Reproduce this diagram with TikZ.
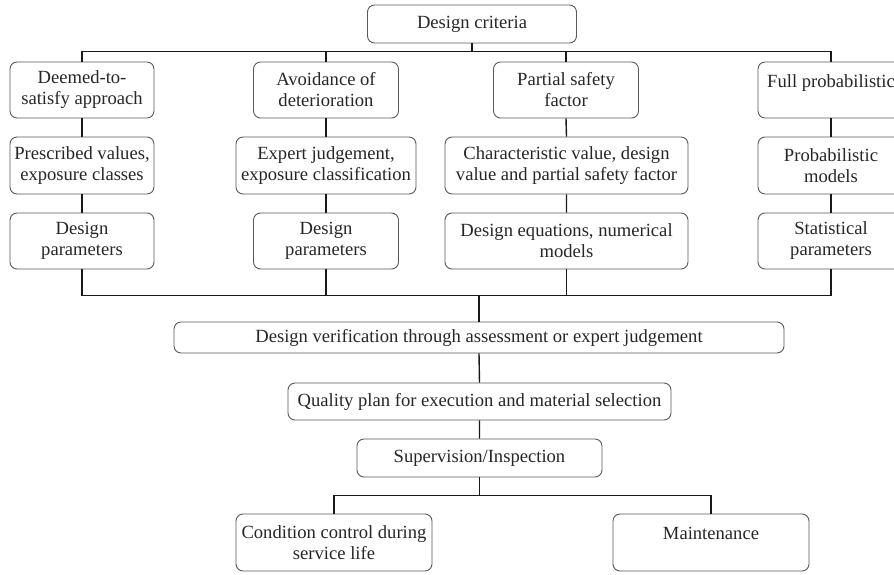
\documentclass[tikz,border=0pt]{standalone}
\usepackage{fontspec}
\setmainfont{Liberation Serif}

\begin{document}
\begin{tikzpicture}[x=1pt,y=-1pt,
    box/.style={draw=black!65,line width=0.9pt,rounded corners=7pt,align=center,inner sep=1pt,text=black!85,font=\fontsize{18.6}{21}\selectfont},
    lifted/.style={text depth=18pt},
    link/.style={draw=black!90,line width=1.4pt}]
        \useasboundingbox(0,0)rectangle(894,575);

        \node[box,minimum width=209,minimum height=38](crit)at(472,24){Design criteria};

        \node[box,minimum width=144,minimum height=56](a1)at(82,90){Deemed-to-\\satisfy approach};
        \node[box,minimum width=145,minimum height=56](b1)at(326,90){Avoidance of\\deterioration};
        \node[box,minimum width=145,minimum height=56](c1)at(566,90){Partial safety\\factor};
        \node[box,lifted,minimum width=146,minimum height=56](d1)at(831,90){Full probabilistic};

        \node[box,minimum width=144,minimum height=57](a2)at(82,165.5){Prescribed values,\\exposure classes};
        \node[box,minimum width=180,minimum height=57](b2)at(326,165.5){Expert judgement,\\exposure classification};
        \node[box,minimum width=243,minimum height=57](c2)at(566.5,165.5){Characteristic value, design\\value and partial safety factor};
        \node[box,minimum width=146,minimum height=57](d2)at(831,165.5){Probabilistic\\models};

        \node[box,minimum width=144,minimum height=56](a3)at(82,241){Design\\parameters};
        \node[box,minimum width=145,minimum height=56](b3)at(326,241){Design\\parameters};
        \node[box,minimum width=243,minimum height=56](c3)at(566.5,241){Design equations, numerical\\models};
        \node[box,minimum width=146,minimum height=56](d3)at(831,241){Statistical\\parameters};

        \node[box,minimum width=610,minimum height=31](ver)at(479,337.5){Design verification through assessment or expert judgement};
        \node[box,minimum width=383,minimum height=37](qual)at(479.5,401.5){Quality plan for execution and material selection};
        \node[box,minimum width=245,minimum height=38](sup)at(479.5,458){Supervision/Inspection};

        \node[box,minimum width=196,minimum height=57](cond)at(334,542.5){Condition control during\\service life};
        \node[box,lifted,minimum width=196,minimum height=57](maint)at(711,542.5){Maintenance};

        \draw[link](crit.south)--++(0,9);
        \draw[link](a1.north)--++(0,-10)-|(d1.north);
        \draw[link](b1.north)--++(0,-10)(c1.north)--++(0,-10);
        \foreach \c in {a,b,c,d}
            \draw[link](\c1.south)--(\c2.north)(\c2.south)--(\c3.north);
        \draw[link](a3.south)--++(0,26)-|(d3.south);
        \draw[link](b3.south)--++(0,26)(c3.south)--++(0,26);
        \draw[link](ver.north)--++(0,-27);
        \draw[link](ver.south)--(qual.north)(qual.south)--(sup.north);
        \draw[link](sup.south)--++(0,19);
        \draw[link](cond.north)--++(0,-18)-|(maint.north);
    \end{tikzpicture}
\end{document}
